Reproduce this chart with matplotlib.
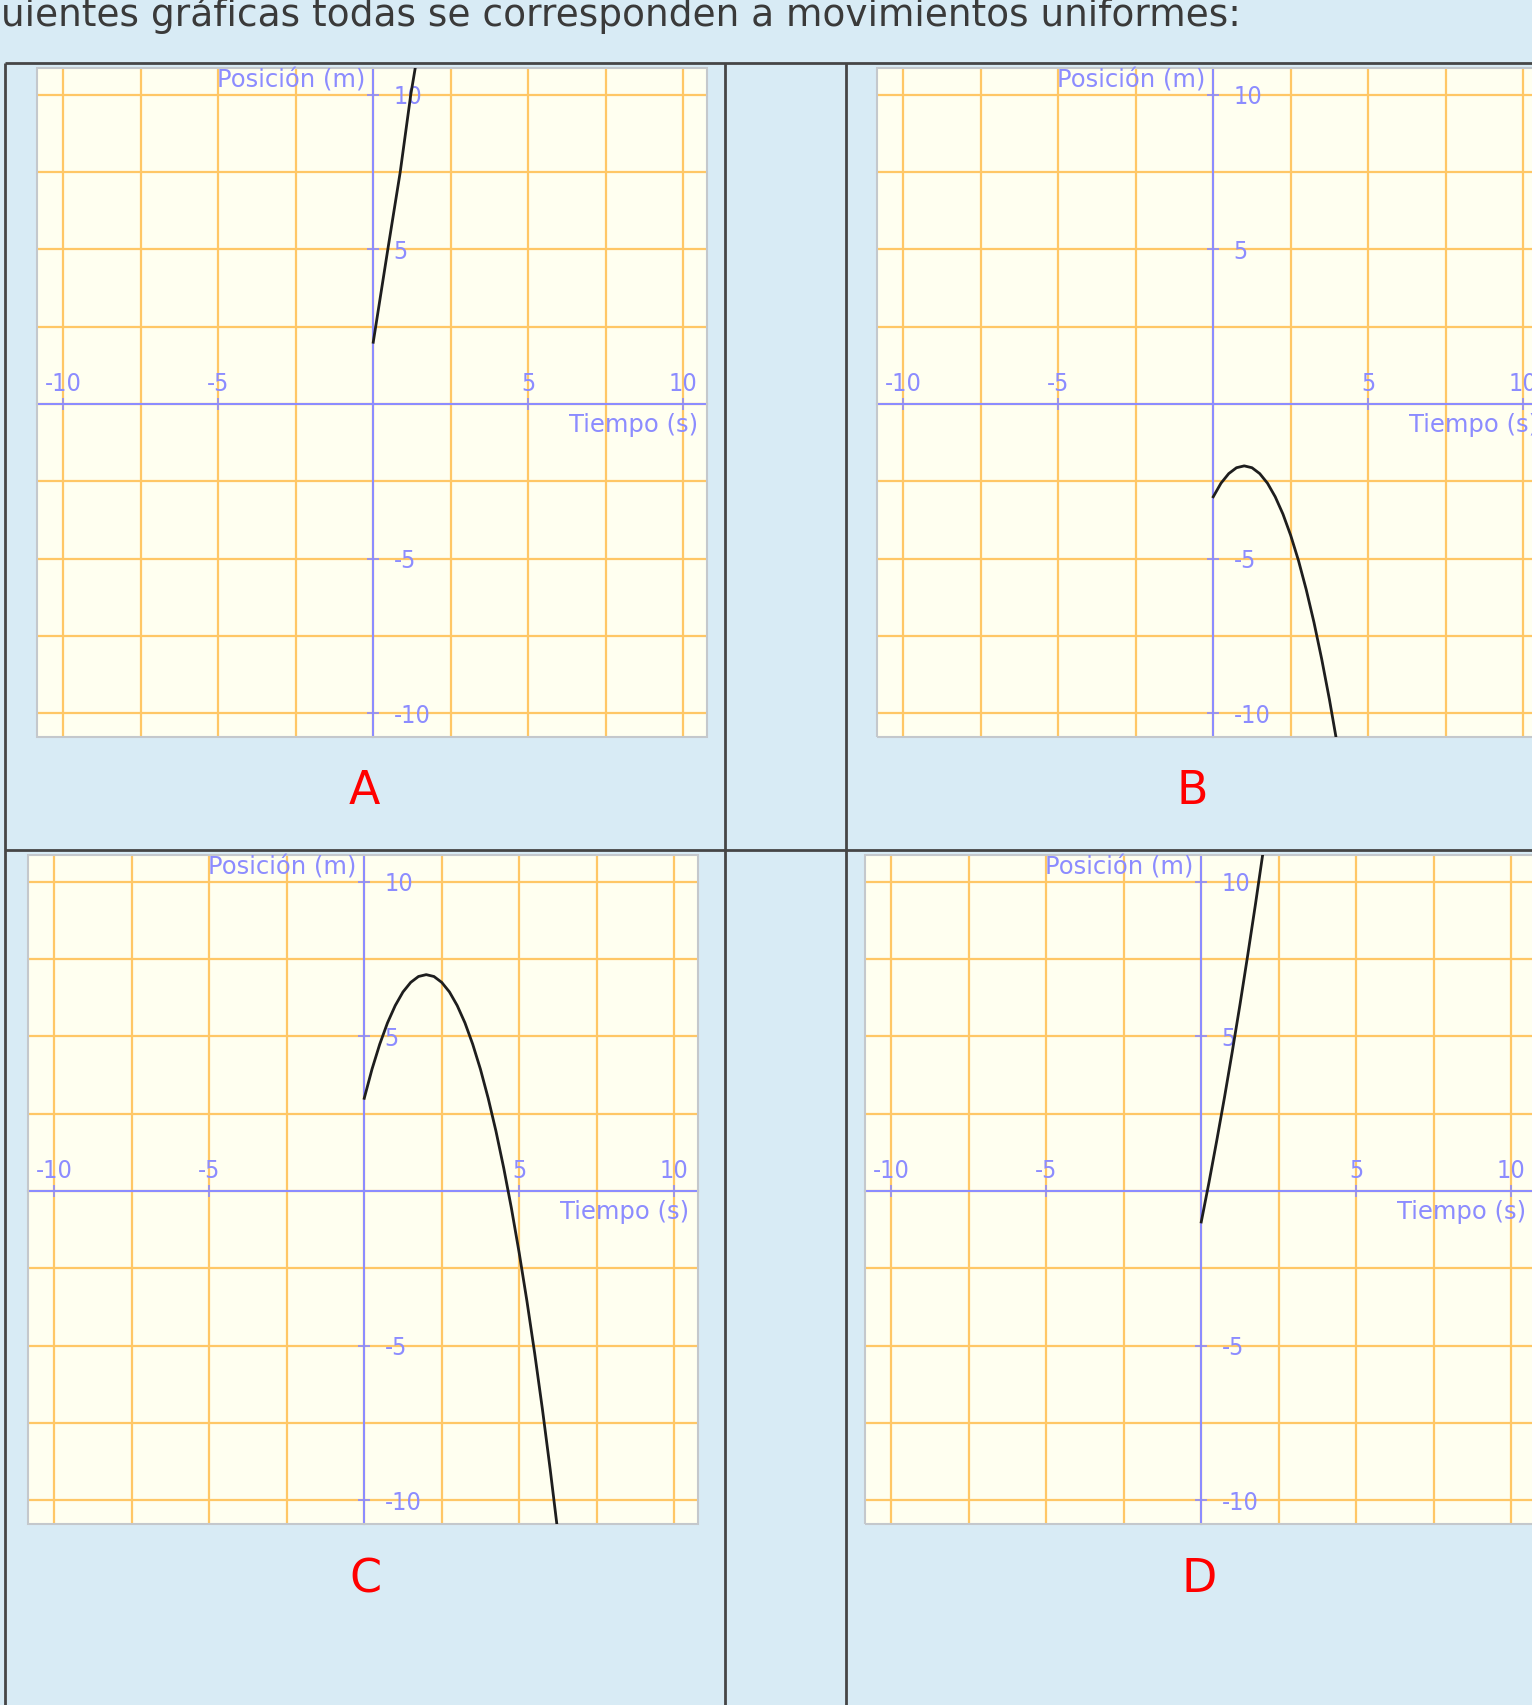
import numpy as np
import matplotlib.pyplot as plt
from matplotlib.patches import Rectangle

plt.rcParams["font.family"] = "DejaVu Sans"
plt.rcParams["axes.unicode_minus"] = False

W, H = 1532, 1705
DPI = 100

# position (m) against time (s)
a_t = [0.0, 0.47, 0.87, 1.21, 1.36]
a_x = [2.0, 5.0, 7.5, 10.0, 10.9]

b_t = [0.0, 0.25, 0.5, 0.75, 1.0, 1.25, 1.5, 1.75, 2.0, 2.25, 2.5, 2.75, 3.0, 3.25, 3.5, 3.75, 4.0]
b_x = [-3.0, -2.56, -2.25, -2.06, -2.0, -2.06, -2.25, -2.56, -3.0, -3.56, -4.25, -5.06, -6.0, -7.06, -8.25, -9.56, -11.0]

c_t = [0.0, 0.25, 0.5, 0.75, 1.0, 1.25, 1.5, 1.75, 2.0, 2.25, 2.5, 2.75, 3.0,
       3.25, 3.5, 3.75, 4.0, 4.25, 4.5, 4.75, 5.0, 5.25, 5.5, 5.75, 6.0, 6.25]
c_x = [3.0, 3.94, 4.75, 5.44, 6.0, 6.44, 6.75, 6.94, 7.0, 6.94, 6.75, 6.44, 6.0,
       5.44, 4.75, 3.94, 3.0, 1.94, 0.75, -0.56, -2.0, -3.56, -5.25, -7.06, -9.0, -11.06]

d_t = [0.0, 0.25, 0.5, 0.75, 1.0, 1.25, 1.5, 1.75, 2.0]
d_x = [-1.0, 0.28, 1.63, 3.03, 4.5, 6.03, 7.63, 9.28, 11.0]

panel_names = ["A", "B", "C", "D"]
axis_ticks = [-10, -5, 5, 10]
grid_steps = [-7.5, -2.5, 0, 2.5, 7.5]
title = "uientes gráficas todas se corresponden a movimientos uniformes:"

bg_blue = "#d8ebf5"
paper = "#fffff0"
orange = "#ffc766"
axis_blue = "#8c8cff"
frame_grey = "#c4c8cc"
rule = "#464646"


def px_box(x0, y0, x1, y1):
    # pixel box (top-left origin) -> figure fraction
    return [x0 / W, 1 - y1 / H, (x1 - x0) / W, (y1 - y0) / H]


def graph(box, t, x):
    ax = fig.add_axes(px_box(*box))
    ax.set_facecolor(paper)
    ax.set_xlim(-10.85, 10.77)
    ax.set_ylim(-10.77, 10.87)

    ax.set_xticks(axis_ticks)
    ax.set_yticks(axis_ticks)
    ax.set_xticks(grid_steps, minor=True)
    ax.set_yticks(grid_steps, minor=True)
    ax.set_axisbelow(True)
    ax.grid(which="both", color=orange, lw=1.6)

    ax.spines["bottom"].set_visible(False)
    ax.spines["left"].set_visible(False)
    for side in ["top", "right"]:
        ax.spines[side].set_position(("data", 0))
        ax.spines[side].set_color(axis_blue)
        ax.spines[side].set_linewidth(1.5)
    ax.xaxis.set_ticks_position("top")
    ax.yaxis.set_ticks_position("right")
    ax.tick_params(which="major", direction="inout", length=9, width=1.2,
                   color=axis_blue, labelcolor=axis_blue, labelsize=18)
    ax.tick_params(which="minor", length=0)
    ax.tick_params(axis="x", pad=1)
    ax.tick_params(axis="y", pad=10)
    for lab in ax.get_xticklabels() + ax.get_yticklabels():
        lab.set_fontstretch("condensed")

    ax.add_patch(Rectangle((0, 0), 1, 1, transform=ax.transAxes, fill=False,
                           ec=frame_grey, lw=1.5, clip_on=False, zorder=3))

    ax.text(-0.26, 10.84, "Posición (m)", ha="right", va="top", fontsize=17.5,
            color=axis_blue)
    ax.text(10.48, -0.3, "Tiempo (s)", ha="right", va="top", fontsize=17.5,
            color=axis_blue)

    ax.plot(t, x, color="#1e1e1e", lw=2, zorder=5)
    return ax


fig = plt.figure(figsize=(W / DPI, H / DPI), dpi=DPI, facecolor=bg_blue)

# pixel space for the page around the graphs
page = fig.add_axes([0, 0, 1, 1])
page.set_xlim(0, W)
page.set_ylim(H, 0)
page.axis("off")

page.text(1, 26, title, fontsize=27, color="#3a3a3a", va="baseline")

page.hlines([63, 850], 5, W, color=rule, lw=2)
page.vlines([5, 725, 846], 63, H, color=rule, lw=2)

boxes = [(37, 68, 707, 737), (877, 68, 1547, 737),
         (28, 855, 698, 1524), (865, 855, 1535, 1524)]
letter_pos = [(364, 792), (1192, 792), (365, 1580), (1199, 1580)]
curves = [(a_t, a_x), (b_t, b_x), (c_t, c_x), (d_t, d_x)]

for box, (t, x), name, (lx, ly) in zip(boxes, curves, panel_names, letter_pos):
    graph(box, t, x)
    page.text(lx, ly, name, color="#ff0000", fontsize=33, ha="center", va="center")

fig.savefig("out.png", dpi=DPI, facecolor=bg_blue)
